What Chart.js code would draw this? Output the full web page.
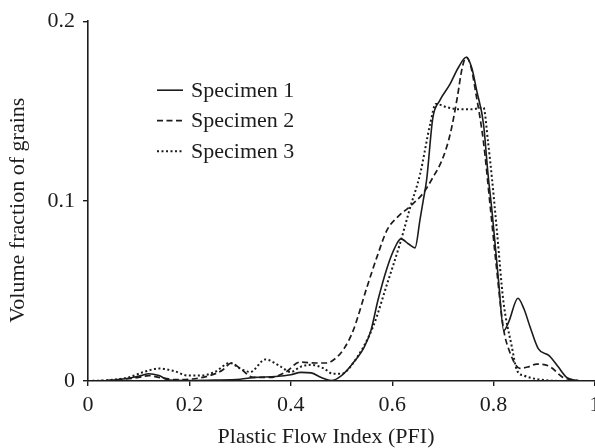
<!DOCTYPE html>
<html>
<head>
<meta charset="utf-8">
<script src="https://cdn.jsdelivr.net/npm/chart.js@4.4.1/dist/chart.umd.min.js"></script>
<style>
  html, body { margin: 0; padding: 0; background: #fff; overflow: hidden; width: 595px; height: 448px; }
  #wrap { position: absolute; left: 0; top: 0; width: 620px; height: 448px; }
</style>
</head>
<body>
<div id="wrap"><canvas id="c" width="620" height="448"></canvas></div>
<script>
// Volume fraction of grains against plastic flow index, three specimens
const seriesNames = ['Specimen 1', 'Specimen 2', 'Specimen 3'];

const pfi1 = [0, 0.04, 0.08, 0.105, 0.12, 0.14, 0.16, 0.2, 0.25, 0.3, 0.33, 0.37, 0.4, 0.42, 0.44, 0.46, 0.48,
  0.5, 0.523, 0.545, 0.558, 0.572, 0.59, 0.605, 0.617, 0.633, 0.645, 0.655, 0.661, 0.668, 0.68, 0.694, 0.714,
  0.73, 0.746, 0.757, 0.767, 0.78, 0.789, 0.797, 0.81, 0.82, 0.83, 0.848, 0.86, 0.872, 0.888, 0.91, 0.927,
  0.944, 0.96, 0.98, 1.0];
const vf1 = [0, 0.0003, 0.0015, 0.003, 0.004, 0.003, 0.0005, 0.0003, 0.0005, 0.001, 0.002, 0.0025, 0.0035, 0.0048, 0.0045, 0.002, 0.0002,
  0.003, 0.010, 0.019, 0.028, 0.045, 0.063, 0.074, 0.079, 0.076, 0.074, 0.090, 0.100, 0.112, 0.146, 0.156, 0.165,
  0.174, 0.180, 0.174, 0.161, 0.143, 0.115, 0.094, 0.055, 0.028, 0.033, 0.046, 0.040, 0.030, 0.018, 0.014, 0.008,
  0.002, 0.0005, 0, 0];

const pfi2 = [0, 0.05, 0.1, 0.12, 0.14, 0.17, 0.2, 0.24, 0.265, 0.283, 0.3, 0.326, 0.36, 0.39, 0.418, 0.45, 0.47,
  0.49, 0.505, 0.523, 0.55, 0.57, 0.59, 0.61, 0.635, 0.66, 0.68, 0.7, 0.715, 0.728, 0.738, 0.746, 0.755, 0.765,
  0.78, 0.793, 0.805, 0.819, 0.832, 0.852, 0.87, 0.885, 0.911, 0.937, 0.96, 0.98, 1.0];
const vf2 = [0, 0.0005, 0.002, 0.003, 0.002, 0.0008, 0.001, 0.003, 0.006, 0.010, 0.007, 0.002, 0.002, 0.005, 0.0105, 0.010, 0.010,
  0.013, 0.018, 0.028, 0.052, 0.069, 0.084, 0.091, 0.097, 0.104, 0.113, 0.124, 0.138, 0.157, 0.174, 0.180, 0.175, 0.160,
  0.133, 0.098, 0.065, 0.030, 0.016, 0.007, 0.008, 0.0094, 0.008, 0.002, 0.0005, 0, 0];

const pfi3 = [0, 0.04, 0.08, 0.11, 0.14, 0.17, 0.197, 0.22, 0.25, 0.28, 0.3, 0.32, 0.35, 0.38, 0.4, 0.42, 0.44,
  0.465, 0.483, 0.5, 0.523, 0.562, 0.59, 0.615, 0.635, 0.655, 0.675, 0.686, 0.71, 0.734, 0.755, 0.78, 0.789,
  0.797, 0.807, 0.819, 0.836, 0.846, 0.86, 0.9, 0.95, 1.0];
const vf3 = [0, 0.0005, 0.002, 0.005, 0.007, 0.0055, 0.003, 0.003, 0.005, 0.010, 0.007, 0.005, 0.012, 0.008, 0.005, 0.008, 0.009,
  0.007, 0.004, 0.004, 0.010, 0.030, 0.054, 0.076, 0.096, 0.115, 0.143, 0.154, 0.152, 0.151, 0.151, 0.152, 0.133,
  0.112, 0.082, 0.045, 0.019, 0.006, 0.003, 0.0005, 0, 0];

const xTickValues = [0, 0.2, 0.4, 0.6, 0.8, 1];
const yTickValues = [0, 0.1, 0.2];
const xTitle = 'Plastic Flow Index (PFI)';
const yTitle = 'Volume fraction of grains';

const ink = '#1c1c1c';
const serif = '"Liberation Serif", "Times New Roman", serif';
const textSize = 22;

const pairs = (xs, ys) => xs.map((x, i) => ({ x, y: ys[i] }));

function series(label, xs, ys, dash, width) {
  return {
    label,
    data: pairs(xs, ys),
    borderColor: ink,
    borderWidth: width,
    borderDash: dash,
    pointRadius: 0,
    fill: false,
    cubicInterpolationMode: 'monotone'
  };
}

// axis titles and the inset key
const decor = {
  id: 'decor',
  afterDraw(chart) {
    const { ctx, chartArea: a } = chart;
    ctx.save();
    ctx.fillStyle = ink;
    ctx.font = textSize + 'px ' + serif;
    ctx.textAlign = 'center';
    ctx.textBaseline = 'middle';
    ctx.fillText(xTitle, a.left + 238, a.bottom + 56);
    ctx.save();
    ctx.translate(a.left - 70, a.top + 189);
    ctx.rotate(-Math.PI / 2);
    ctx.fillText(yTitle, 0, 0);
    ctx.restore();

    // key
    const kx = a.left + 69, ky = a.top + 69, row = 30.5;
    chart.data.datasets.forEach((ds, i) => {
      const yy = ky + i * row;
      ctx.beginPath();
      ctx.setLineDash(ds.borderDash || []);
      ctx.lineWidth = ds.borderWidth;
      ctx.strokeStyle = ink;
      ctx.moveTo(kx, yy);
      ctx.lineTo(kx + 26, yy);
      ctx.stroke();
      ctx.setLineDash([]);
      ctx.textAlign = 'left';
      ctx.fillText(ds.label, kx + 34, yy + 1);
    });
    ctx.restore();
  }
};

new Chart(document.getElementById('c'), {
  type: 'line',
  data: {
    datasets: [
      series(seriesNames[0], pfi1, vf1, [], 1.6),
      series(seriesNames[1], pfi2, vf2, [6, 3.5], 1.7),
      series(seriesNames[2], pfi3, vf3, [2, 2.5], 2)
    ]
  },
  options: {
    responsive: false,
    animation: false,
    devicePixelRatio: 1,
    layout: { padding: { left: 0, top: 20, right: 25, bottom: 0 } },
    plugins: { legend: { display: false }, tooltip: { enabled: false } },
    scales: {
      x: {
        type: 'linear',
        min: 0, max: 1,
        afterBuildTicks: s => { s.ticks = xTickValues.map(v => ({ value: v })); },
        afterFit: s => { s.height = 67; },
        ticks: { color: ink, font: { family: serif, size: textSize }, padding: 6, maxRotation: 0,
          callback: v => String(v) },
        grid: { display: true, drawOnChartArea: false, drawTicks: true, tickLength: 5, color: ink, lineWidth: 1.4 },
        border: { display: true, color: ink, width: 1.6 }
      },
      y: {
        type: 'linear',
        min: 0, max: 0.2,
        afterBuildTicks: s => { s.ticks = yTickValues.map(v => ({ value: v })); },
        afterFit: s => { s.width = 88; },
        ticks: { color: ink, font: { family: serif, size: textSize }, padding: 8,
          callback: v => String(v) },
        grid: { display: true, drawOnChartArea: false, drawTicks: true, tickLength: 5, color: ink, lineWidth: 1.4 },
        border: { display: true, color: ink, width: 1.6 }
      }
    }
  },
  plugins: [decor]
});
</script>
</body>
</html>
